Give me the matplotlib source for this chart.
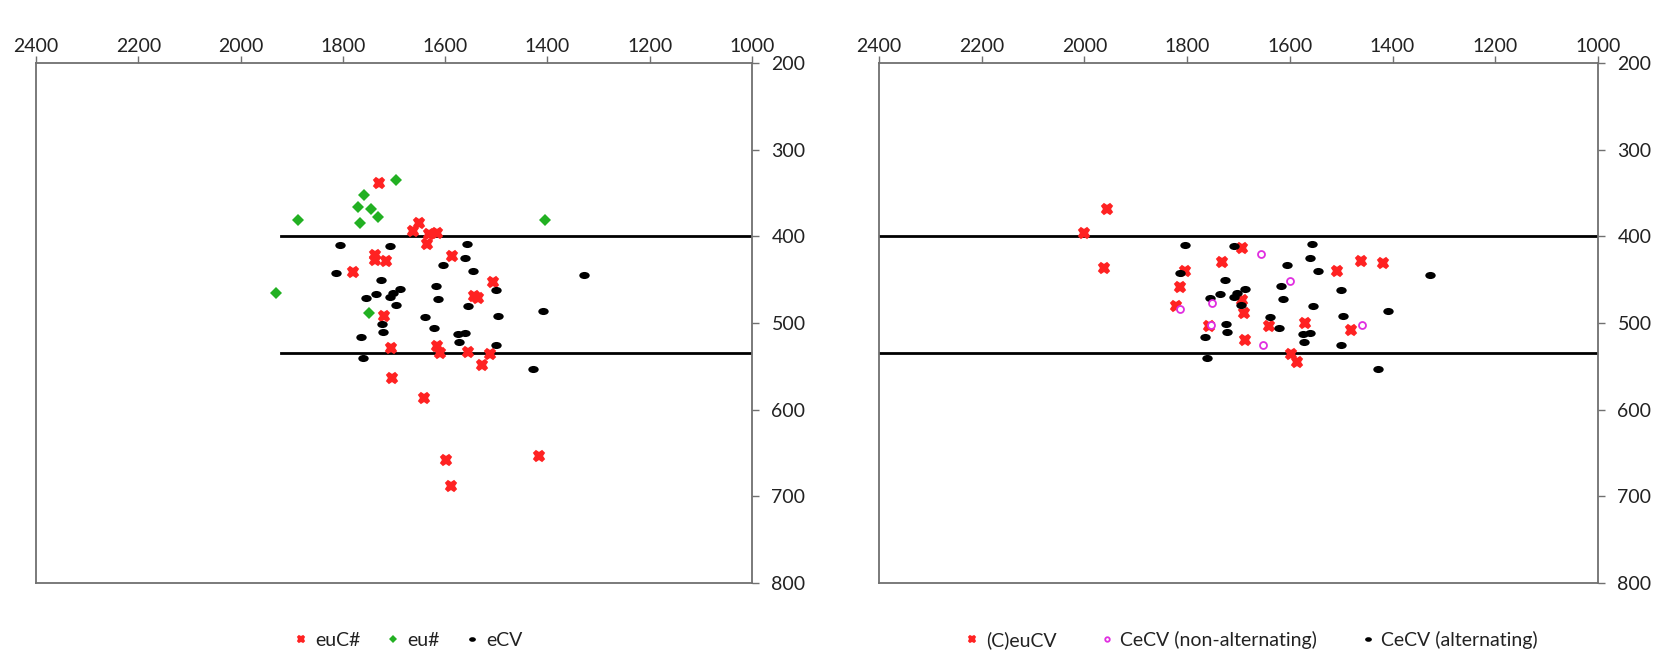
import matplotlib
matplotlib.use("Agg")
import matplotlib.pyplot as plt
from matplotlib.path import Path
import numpy as np

plt.rcParams['font.family'] = ['Lato', 'DejaVu Sans']

# ---------------- data ----------------
# Left panel
euC_x = [1730, 1652, 1663, 1632, 1615, 1636, 1738, 1738, 1715, 1586, 1781, 1506,
         1543, 1535, 1719, 1706, 1616, 1611, 1556, 1512, 1528, 1704, 1641, 1599,
         1416, 1589]
euC_y = [339, 385, 394, 397, 396, 409, 421, 427, 429, 423, 441, 453,
         469, 471, 492, 529, 527, 535, 534, 536, 548, 563, 587, 658,
         653, 688]

eu_x = [1697, 1758, 1771, 1745, 1732, 1887, 1767, 1405, 1930, 1749]
eu_y = [335, 352, 366, 368, 378, 381, 385, 381, 465, 488]

eCV_x = [1805, 1708, 1557, 1561, 1605, 1545, 1813, 1328, 1726, 1618, 1688, 1702,
         1736, 1755, 1708, 1501, 1614, 1696, 1555, 1409, 1496, 1639, 1724, 1622,
         1722, 1574, 1561, 1765, 1572, 1501, 1761, 1429]
eCV_y = [410, 411, 409, 425, 433, 440, 442, 445, 450, 457, 461, 465,
         466, 471, 470, 462, 472, 479, 480, 486, 492, 493, 501, 506,
         510, 513, 512, 516, 522, 525, 540, 553]

# Right panel
CeuCV_x = [1956, 2001, 1962, 1693, 1732, 1805, 1814, 1822, 1462, 1418, 1509, 1693,
           1689, 1758, 1640, 1570, 1481, 1687, 1598, 1587]
CeuCV_y = [369, 396, 436, 414, 430, 440, 459, 480, 429, 431, 440, 473,
           488, 503, 503, 500, 508, 520, 536, 545]

nonalt_x = [1656, 1599, 1814, 1751, 1754, 1459, 1653]
nonalt_y = [420, 451, 484, 477, 502, 502, 525]

alt_x = eCV_x
alt_y = eCV_y

ref_lines = [400, 535]
left_line_start = 1920

x_ticks = [2400, 2200, 2000, 1800, 1600, 1400, 1200, 1000]
y_ticks = [200, 300, 400, 500, 600, 700, 800]

left_labels = ["euC#", "eu#", "eCV"]
right_labels = ["(C)euCV", "CeCV (non-alternating)", "CeCV (alternating)"]

# ---------------- styling ----------------
RED = "#FF2222"
GREEN = "#22B022"
MAGENTA = "#E02EE0"
BLACK = "#000000"
SPINE = "#707070"

circ = Path.unit_circle()
ell = Path(circ.vertices * np.array([1.0, 0.68]), circ.codes)

fig = plt.figure(figsize=(16.61, 6.51), dpi=100)
ax1 = fig.add_axes([36 / 1661, 1 - 583 / 651, 716 / 1661, 520 / 651])
ax2 = fig.add_axes([879 / 1661, 1 - 583 / 651, 719 / 1661, 520 / 651])


def style(ax):
    ax.set_xlim(2400, 1000)
    ax.set_ylim(800, 200)
    ax.set_xticks(x_ticks)
    ax.set_yticks(y_ticks)
    ax.xaxis.tick_top()
    ax.yaxis.tick_right()
    ax.tick_params(axis='x', direction='out', length=5, width=1, color=SPINE,
                   labelsize=14, pad=1, labelcolor='#222222')
    ax.tick_params(axis='y', direction='out', length=5, width=1, color=SPINE,
                   labelsize=14, pad=9, labelcolor='#222222')
    for s in ax.spines.values():
        s.set_color(SPINE)
        s.set_linewidth(1.3)


style(ax1)
style(ax2)

# Left panel
for yv in ref_lines:
    ax1.plot([left_line_start, 1000], [yv, yv], color='black', lw=2, zorder=1)
h1 = ax1.plot(euC_x, euC_y, ls='none', marker='X', ms=7.5, mfc=RED, mec=RED,
              mew=1.3, label=left_labels[0], zorder=3)[0]
h2 = ax1.plot(eu_x, eu_y, ls='none', marker='D', ms=6, mfc=GREEN, mec=GREEN,
              mew=0, label=left_labels[1], zorder=3)[0]
h3 = ax1.plot(eCV_x, eCV_y, ls='none', marker=ell, ms=7.5, mfc=BLACK, mec=BLACK,
              mew=0, label=left_labels[2], zorder=3)[0]

# Right panel
for yv in ref_lines:
    ax2.plot([2400, 1000], [yv, yv], color='black', lw=2, zorder=1)
g1 = ax2.plot(CeuCV_x, CeuCV_y, ls='none', marker='X', ms=7.5, mfc=RED, mec=RED,
              mew=1.3, label=right_labels[0], zorder=3)[0]
g2 = ax2.plot(nonalt_x, nonalt_y, ls='none', marker='o', ms=5, mfc='white',
              mec=MAGENTA, mew=1.3, label=right_labels[1], zorder=4)[0]
g3 = ax2.plot(alt_x, alt_y, ls='none', marker=ell, ms=7.5, mfc=BLACK, mec=BLACK,
              mew=0, label=right_labels[2], zorder=3)[0]

leg1 = ax1.legend(handles=[h1, h2, h3], loc='center', bbox_to_anchor=(0.521, -0.11),
                  ncol=3, frameon=False, fontsize=14, markerscale=0.65,
                  handlelength=0.6, handletextpad=0.4, columnspacing=1.4)
leg2 = ax2.legend(handles=[g1, g2, g3], loc='center', bbox_to_anchor=(0.519, -0.11),
                  ncol=3, frameon=False, fontsize=14, markerscale=0.65,
                  handlelength=0.6, handletextpad=0.4, columnspacing=2.3)
for leg in (leg1, leg2):
    for t in leg.get_texts():
        t.set_color('#222222')

fig.savefig("out.png", dpi=100)
